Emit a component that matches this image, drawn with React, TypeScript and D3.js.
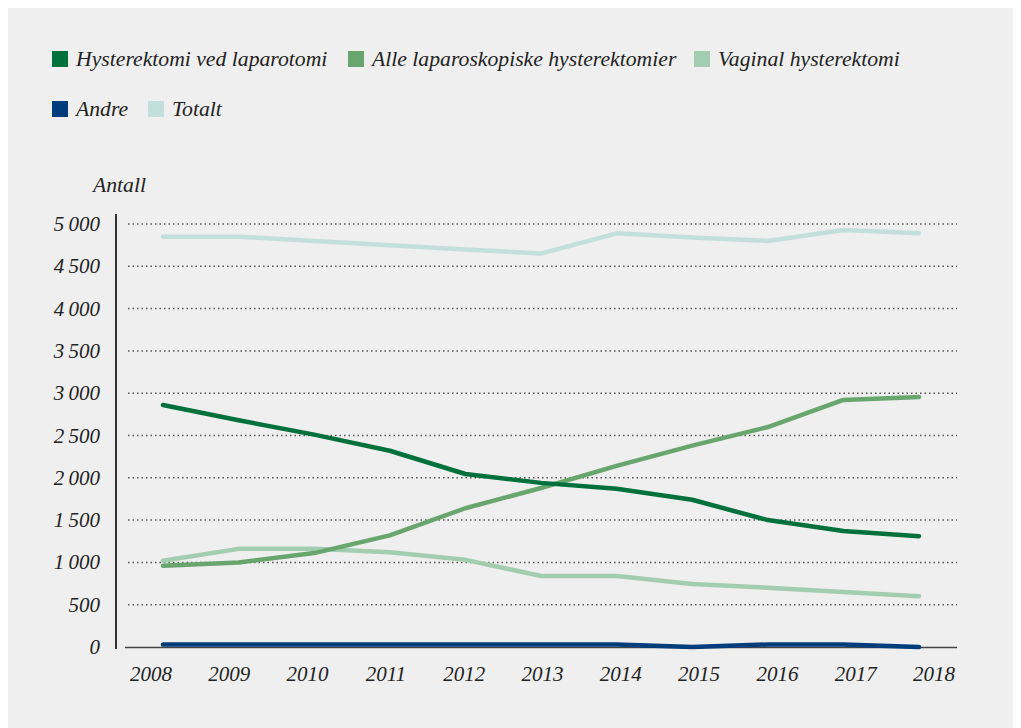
import React, { useEffect, useRef } from 'react';
import * as d3 from 'd3';

// data
const years = [2008, 2009, 2010, 2011, 2012, 2013, 2014, 2015, 2016, 2017, 2018];
const laparotomi = [2860, 2680, 2510, 2320, 2045, 1940, 1870, 1740, 1500, 1370, 1310];
const laparoskopi = [960, 1000, 1110, 1320, 1640, 1880, 2140, 2380, 2600, 2920, 2955];
const vaginal = [1020, 1160, 1160, 1120, 1030, 840, 840, 745, 700, 650, 600];
const andre = [30, 30, 30, 30, 30, 30, 30, 0, 30, 30, 0];
const totalt = [4850, 4850, 4800, 4750, 4700, 4650, 4890, 4840, 4800, 4930, 4890];
const yTicks = [0, 500, 1000, 1500, 2000, 2500, 3000, 3500, 4000, 4500, 5000];

const series = [
  { name: 'Hysterektomi ved laparotomi', values: laparotomi, color: '#00703c' },
  { name: 'Alle laparoskopiske hysterektomier', values: laparoskopi, color: '#69a66d' },
  { name: 'Vaginal hysterektomi', values: vaginal, color: '#a2cdb0' },
  { name: 'Andre', values: andre, color: '#003d7d' },
  { name: 'Totalt', values: totalt, color: '#c3dfd9' },
];

const App = () => {
  const svgRef = useRef<SVGSVGElement>(null);

  useEffect(() => {
    const svg = d3.select(svgRef.current);
    svg.selectAll('*').remove();

    const width = 1013;
    const height = 720;
    const font = '"Liberation Serif", serif';

    svg.append('rect').attr('width', width).attr('height', height).attr('fill', '#efefef');

    // panel is offset by the 8px body margin, so coordinates below are page coords
    const g = svg.append('g').attr('transform', 'translate(-8,-8)');

    const x = d3.scalePoint<number>().domain(years).range([163, 919]);
    // year labels sit on a slightly wider spread than the data points
    const xLabel = d3.scalePoint<number>().domain(years).range([151, 934]);
    const y = d3.scaleLinear().domain([0, 5000]).range([647, 224]);

    // legend
    const legendPos = [
      [52, 51], [348, 51], [694, 51],
      [52, 101], [148, 101],
    ];
    series.forEach((s, i) => {
      const [lx, ly] = legendPos[i];
      g.append('rect').attr('x', lx).attr('y', ly).attr('width', 16).attr('height', 16).attr('fill', s.color);
      g.append('text')
        .attr('x', lx + 24).attr('y', ly + 15)
        .attr('font-family', font).attr('font-style', 'italic').attr('font-size', 21.7)
        .attr('fill', '#222')
        .text(s.name);
    });

    // axis title
    g.append('text')
      .attr('x', 93).attr('y', 192)
      .attr('font-family', font).attr('font-style', 'italic').attr('font-size', 21.7)
      .attr('fill', '#222')
      .text('Antall');

    // grid
    g.append('g')
      .selectAll('line')
      .data(yTicks.filter((d) => d > 0))
      .enter()
      .append('line')
      .attr('x1', 128).attr('x2', 957)
      .attr('y1', (d) => y(d)).attr('y2', (d) => y(d))
      .attr('stroke', '#555')
      .attr('stroke-width', 1.5)
      .attr('stroke-dasharray', '1.5,3');

    // y tick labels
    g.append('g')
      .selectAll('text')
      .data(yTicks)
      .enter()
      .append('text')
      .attr('x', 100).attr('y', (d) => y(d) + 7)
      .attr('text-anchor', 'end')
      .attr('font-family', font).attr('font-style', 'italic').attr('font-size', 21)
      .attr('fill', '#222')
      .text((d) => (d >= 1000 ? d3.format(',')(d).replace(',', '\u2009') : String(d)));

    // x tick labels
    g.append('g')
      .selectAll('text')
      .data(years)
      .enter()
      .append('text')
      .attr('x', (d) => xLabel(d)!).attr('y', 681)
      .attr('text-anchor', 'middle')
      .attr('font-family', font).attr('font-style', 'italic').attr('font-size', 21)
      .attr('fill', '#222')
      .text((d) => String(d));

    // axes lines
    g.append('line').attr('x1', 116).attr('x2', 116).attr('y1', 214).attr('y2', 649)
      .attr('stroke', '#333').attr('stroke-width', 2);
    g.append('line').attr('x1', 125).attr('x2', 957).attr('y1', 647.5).attr('y2', 647.5)
      .attr('stroke', '#444').attr('stroke-width', 1.5);

    const line = d3.line<number>()
      .x((_, i) => x(years[i])!)
      .y((d) => y(d));

    // draw in order so darker lines sit on top
    const order = [4, 2, 1, 0, 3];
    order.forEach((idx) => {
      const s = series[idx];
      g.append('path')
        .datum(s.values)
        .attr('d', line)
        .attr('fill', 'none')
        .attr('stroke', s.color)
        .attr('stroke-width', 4.5)
        .attr('stroke-linecap', 'round')
        .attr('stroke-linejoin', 'round');
    });
  }, []);

  return <svg ref={svgRef} width={1013} height={720} style={{ display: 'block' }} />;
};

export default App;
